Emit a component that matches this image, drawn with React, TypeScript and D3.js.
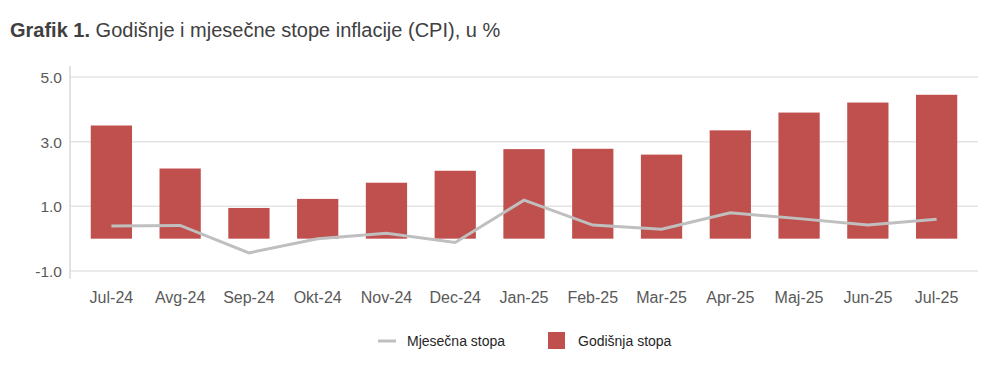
import React, { useEffect, useRef } from "react";
import * as d3 from "d3";

const months = ["Jul-24", "Avg-24", "Sep-24", "Okt-24", "Nov-24", "Dec-24", "Jan-25", "Feb-25", "Mar-25", "Apr-25", "Maj-25", "Jun-25", "Jul-25"];
const annualRate = [3.5, 2.17, 0.95, 1.23, 1.73, 2.1, 2.77, 2.78, 2.6, 3.35, 3.9, 4.21, 4.45];
const monthlyRate = [0.39, 0.41, -0.44, 0.0, 0.17, -0.12, 1.19, 0.42, 0.29, 0.8, 0.62, 0.42, 0.6];
const yTicks = [-1, 1, 3, 5];

const App: React.FC = () => {
  const svgRef = useRef<SVGSVGElement | null>(null);

  useEffect(() => {
    if (!svgRef.current) return;
    const font = "'Liberation Sans', Arial, sans-serif";

    const svg = d3.select(svgRef.current);
    svg.selectAll("*").remove();

    const x = d3.scaleBand().domain(months).range([77, 971]).paddingInner(0.4).paddingOuter(0.2);
    const y = d3.scaleLinear().domain([-1, 5]).range([271, 77]);

    // title
    const title = svg.append("text")
      .attr("x", 10).attr("y", 37)
      .style("font-family", font).style("font-size", "20px").style("fill", "#404040");
    title.append("tspan").style("font-weight", "bold").text("Grafik 1.");
    title.append("tspan").text(" Godišnje i mjesečne stope inflacije (CPI), u %");

    // grid
    svg.append("g").selectAll("line")
      .data(yTicks)
      .enter()
      .append("line")
      .attr("x1", 70).attr("x2", 978)
      .attr("y1", d => y(d)).attr("y2", d => y(d))
      .style("stroke", "#e4e4e4").style("stroke-width", 1.5);

    svg.append("line")
      .attr("x1", 70).attr("x2", 70)
      .attr("y1", 66).attr("y2", 279)
      .style("stroke", "#d9d9d9").style("stroke-width", 1.5);

    svg.append("g").selectAll("text")
      .data(yTicks)
      .enter()
      .append("text")
      .attr("x", 62).attr("y", d => y(d) + 6)
      .attr("text-anchor", "end")
      .style("font-family", font).style("font-size", "15.5px").style("fill", "#595959")
      .text(d => d.toFixed(1));

    // bars
    svg.append("g").selectAll("rect")
      .data(annualRate)
      .enter()
      .append("rect")
      .attr("x", (d, i) => x(months[i]) ?? 0)
      .attr("y", d => y(d))
      .attr("width", x.bandwidth())
      .attr("height", d => y(0) - y(d))
      .style("fill", "#c0504d");

    // line
    const line = d3.line<number>()
      .x((d, i) => (x(months[i]) ?? 0) + x.bandwidth() / 2)
      .y(d => y(d));

    svg.append("path")
      .datum(monthlyRate)
      .attr("d", line)
      .style("fill", "none")
      .style("stroke", "#bfbfbf")
      .style("stroke-width", 3);

    // x labels
    svg.append("g").selectAll("text")
      .data(months)
      .enter()
      .append("text")
      .attr("x", d => (x(d) ?? 0) + x.bandwidth() / 2)
      .attr("y", 303)
      .attr("text-anchor", "middle")
      .style("font-family", font).style("font-size", "16px").style("fill", "#595959")
      .text(d => d);

    // legend
    const legend = svg.append("g").style("font-family", font).style("font-size", "14px").style("fill", "#262626");
    legend.append("line")
      .attr("x1", 378).attr("x2", 396).attr("y1", 341).attr("y2", 341)
      .style("stroke", "#bfbfbf").style("stroke-width", 3);
    legend.append("text").attr("x", 407).attr("y", 346).text("Mjesečna stopa");
    legend.append("rect")
      .attr("x", 548).attr("y", 332).attr("width", 17).attr("height", 17)
      .style("fill", "#c0504d");
    legend.append("text").attr("x", 578).attr("y", 346).text("Godišnja stopa");
  }, []);

  return <svg ref={svgRef} width={1000} height={373} style={{ position: "absolute", left: 0, top: 0, background: "#fff" }}></svg>;
};

export default App;
